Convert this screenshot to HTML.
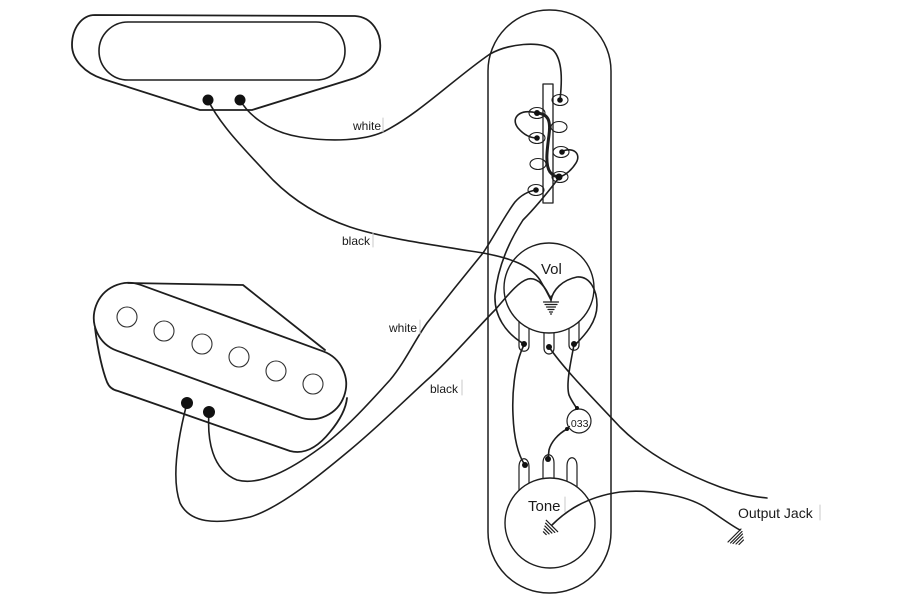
<!DOCTYPE html>
<html><head><meta charset="utf-8"><style>
html,body{margin:0;padding:0;background:#fff;}
svg{display:block;}
text{font-family:"Liberation Sans",Arial,sans-serif;fill:#1a1a1a;}
</style></head><body>
<svg width="900" height="600" viewBox="0 0 900 600" xmlns="http://www.w3.org/2000/svg">
<rect width="900" height="600" fill="#fff"/>
<g fill="none" stroke="#1e1e1e" stroke-linecap="round" stroke-linejoin="round">
<!-- top pickup -->
<path d="M95,15 L355,16 C372,17 382,33 380,50 C378,65 368,73 355,78 L252,110 L200,110 L103,79 C85,73 72,60 72,45 C72,28 82,15 95,15 Z" stroke-width="1.8"/>
<rect x="99" y="22" width="246" height="58" rx="29" stroke-width="1.6"/>
<!-- bottom pickup -->
<rect x="88" y="316" width="264" height="70" rx="35" transform="rotate(20 220 351)" stroke-width="1.8"/>
<path d="M128,283 L243,285 L325,350" stroke-width="1.8"/>
<path d="M95,328 C98,352 103,372 107,382 C109,387 113,390 118,391 L290,451 C305,455 318,447 330,432 C340,420 346,408 347,398" stroke-width="1.8"/>
<g stroke-width="1.1" stroke="#333">
<circle cx="127" cy="317" r="10"/>
<circle cx="164" cy="331" r="10"/>
<circle cx="202" cy="344" r="10"/>
<circle cx="239" cy="357" r="10"/>
<circle cx="276" cy="371" r="10"/>
<circle cx="313" cy="384" r="10"/>
</g>
<!-- control plate -->
<rect x="488" y="10" width="123" height="583" rx="61" stroke-width="1.5"/>
<!-- switch -->
<rect x="543" y="84" width="10" height="119" stroke-width="1.3"/>
<g stroke-width="1.1">
<ellipse cx="560" cy="100" rx="8" ry="5.5"/>
<ellipse cx="537" cy="113" rx="8" ry="5.5"/>
<ellipse cx="559" cy="127" rx="8" ry="5.5"/>
<ellipse cx="537" cy="138" rx="8" ry="5.5"/>
<ellipse cx="561" cy="152" rx="8" ry="5.5"/>
<ellipse cx="538" cy="164" rx="8" ry="5.5"/>
<ellipse cx="560" cy="177" rx="8" ry="5.5"/>
<ellipse cx="536" cy="190" rx="8" ry="5.5"/>
</g>
<!-- vol tabs + circle -->
<path d="M519,318 L519,346 C519,353 529,353 529,346 L529,318" stroke-width="1.2"/>
<path d="M544,325 L544,348 C544,356 554,356 554,348 L554,325" stroke-width="1.2"/>
<path d="M569,318 L569,345 C569,352 579,352 579,345 L579,318" stroke-width="1.2"/>
<circle cx="549" cy="288" r="45" fill="#fff" stroke-width="1.4"/>
<!-- tone tabs + circle -->
<path d="M519,495 L519,467 C519,456 529,456 529,467 L529,495" stroke-width="1.2"/>
<path d="M543,495 L543,463 C543,452 554,452 554,463 L554,495" stroke-width="1.2"/>
<path d="M567,495 L567,466 C567,455 577,455 577,466 L577,495" stroke-width="1.2"/>
<circle cx="550" cy="523" r="45" fill="#fff" stroke-width="1.4"/>
<!-- capacitor -->
<circle cx="579" cy="421" r="12" fill="#fff" stroke-width="1.2"/>
<!-- wires -->
<g stroke-width="1.6">
<path d="M240,100 C248,114 268,132 300,137 C330,142 365,141 385,131 C420,113 455,78 490,54 C508,44 540,40 553,50 C563,60 562,82 560,100"/>
<path d="M208,100 C220,125 245,150 273,180 C290,197 315,215 350,227 C380,237 420,243 483,253 C510,258 530,265 540,280 C546,290 549,296 551,300"/>
<path d="M187,403 C180,430 170,475 180,503 C190,523 215,525 250,517 C280,508 320,475 350,450 C380,425 405,400 427,380 C450,360 475,330 495,310 C508,295 518,282 528,279 C538,277 546,287 551,300"/>
<path d="M209,412 C207,440 212,470 237,480 C260,486 290,470 320,448 C345,430 370,402 390,380 C405,362 415,340 427,323 C445,300 465,275 483,253 C495,235 505,215 515,202 C522,194 530,191 536,190"/>
<path d="M558,179 C548,192 535,208 523,220 C510,240 498,265 495,295 C494,315 505,333 524,344"/>
<path d="M537,113 C520,108 510,118 518,128 C524,135 530,138 537,138"/>
<path d="M561,152 C572,146 582,153 576,163 C571,171 565,175 560,177"/>
<path d="M551,300 C553,290 562,280 577,277 C590,276 597,290 597,305 C597,322 585,335 575,345"/>
<path d="M524,345 C514,365 512,395 513,415 C514,440 518,455 525,465"/>
<path d="M549,347 C565,370 590,395 620,427 C645,452 680,472 720,487 C740,494 755,497 767,498"/>
<path d="M574,345 C570,365 566,385 569,395 C572,402 575,405 577,409"/>
<path d="M567,429 C558,434 551,442 549,450 L548,459"/>
<path d="M552,525 C565,512 585,497 620,492 C650,489 685,495 705,507 C720,517 732,526 740,530"/>
</g>
<path d="M537,113 C548,114 551,120 549,135 C547,150 545,165 550,172 C553,176 556,177 560,177" stroke-width="3"/>
<!-- vol ground -->
<g stroke-width="1.2">
<path d="M551,296 L551,302"/>
<path d="M543.5,302 L558.5,302"/>
<path d="M545,304.5 L557,304.5"/>
<path d="M546.5,307 L555.5,307"/>
<path d="M548,309.5 L554,309.5"/>
<path d="M549.5,312 L552.5,312"/>
<path d="M550.5,314 L551.5,314"/>
</g>
<!-- tone ground -->
<g stroke-width="1.2">
<path d="M546.3,520.3 L557.7,531.7"/>
<path d="M545.6,523.2 L554.8,532.4"/>
<path d="M544.9,526.1 L551.9,533.1"/>
<path d="M544.1,528.9 L549.1,533.9"/>
<path d="M543.4,531.8 L546.2,534.6"/>
</g>
<!-- output ground -->
<g stroke-width="1.2">
<path d="M741,529 L728,542"/>
<path d="M742,531.5 L730.5,543"/>
<path d="M742.5,534 L733,543.5"/>
<path d="M743,537 L736,544"/>
<path d="M743.5,540 L739,544.5"/>
</g>
<!-- label artifact ticks -->
<g stroke="#c8c8c8" stroke-width="1">
<path d="M383,118 L383,132"/>
<path d="M373,233 L373,247"/>
<path d="M420,320 L420,334"/>
<path d="M462,380 L462,395"/>
<path d="M820,505 L820,520"/>
<path d="M565,497 L565,512"/>
</g>
</g>
<!-- dots -->
<g fill="#111">
<circle cx="208" cy="100" r="5.5"/>
<circle cx="240" cy="100" r="5.5"/>
<circle cx="187" cy="403" r="6"/>
<circle cx="209" cy="412" r="6"/>
<circle cx="560" cy="100" r="2.8"/>
<circle cx="537" cy="113" r="3"/>
<circle cx="537" cy="138" r="2.8"/>
<circle cx="562" cy="152" r="2.8"/>
<circle cx="559" cy="177" r="3.5"/>
<circle cx="536" cy="190" r="2.8"/>
<circle cx="524" cy="344" r="3"/>
<circle cx="549" cy="347" r="3"/>
<circle cx="574" cy="344" r="3"/>
<circle cx="525" cy="465" r="3"/>
<circle cx="548" cy="459" r="3"/>
<circle cx="577" cy="408" r="2"/>
<circle cx="567" cy="429" r="2"/>
</g>
<!-- labels -->
<text x="353" y="130" font-size="12">white</text>
<text x="342" y="245" font-size="12">black</text>
<text x="389" y="332" font-size="12">white</text>
<text x="430" y="393" font-size="12">black</text>
<text x="541" y="274" font-size="15">Vol</text>
<text x="528" y="511" font-size="15">Tone</text>
<text x="568" y="427" font-size="10.5">.033</text>
<text x="738" y="518" font-size="14">Output Jack</text>
</svg>
</body></html>
